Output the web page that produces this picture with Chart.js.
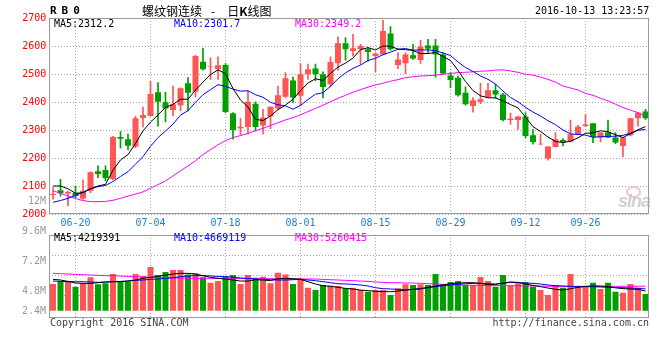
<!DOCTYPE html>
<html><head><meta charset="utf-8">
<script src="https://cdn.jsdelivr.net/npm/chart.js@4/dist/chart.umd.min.js"></script>
<style>
html,body{margin:0;padding:0;background:#fff;}
#wrap{position:relative;width:660px;height:360px;overflow:hidden;font-family:"DejaVu Sans Mono",monospace;font-size:10px;}
.t{position:absolute;white-space:nowrap;line-height:10px;}
canvas{position:absolute;left:0;}
</style></head><body>
<div id="wrap">
<canvas id="pc" width="660" height="230" style="top:0px"></canvas>
<canvas id="vc" width="660" height="100" style="top:230px"></canvas>
<div class="t" style="left:50px;top:5px;font-size:11px;line-height:12px;font-weight:bold;letter-spacing:5px;">RB0</div>
<div class="t" style="left:142px;top:4px;font-family:'Noto Sans CJK SC';font-size:12px;line-height:14px;">螺纹钢连续<span style="margin:0 12px 0 9px">-</span>日<b>K</b>线图</div>
<div class="t" style="left:535px;top:6px;">2016-10-13 13:23:57</div>
<div class="t" style="left:54px;top:19px;color:#000">MA5:2312.2</div>
<div class="t" style="left:174px;top:19px;color:#0000ff">MA10:2301.7</div>
<div class="t" style="left:295px;top:19px;color:#ff00ff">MA30:2349.2</div>
<div class="t" style="left:54px;top:233px;color:#000">MA5:4219391</div>
<div class="t" style="left:174px;top:233px;color:#0000ff">MA10:4669119</div>
<div class="t" style="left:295px;top:233px;color:#ff00ff">MA30:5260415</div>
<div id="vlabels"></div>
<div class="t" style="left:50px;top:318px;color:#444">Copyright 2016 SINA.COM</div>
<div class="t" style="right:11px;top:318px;color:#444">http://finance.sina.com.cn</div>
<div style="position:absolute;left:626px;top:186px;width:11px;height:8px;border:2px solid rgba(240,150,150,0.55);border-radius:50%;"></div>
<div class="t" style="left:618px;top:192px;font-family:'Liberation Sans';font-style:italic;font-weight:bold;font-size:18px;line-height:18px;color:rgba(170,170,170,0.55);letter-spacing:-1px;">sina</div>
</div>
<script>
const dates = ['06-15','06-16','06-17','06-20','06-21','06-22','06-23','06-24','06-27','06-28',
'06-29','06-30','07-01','07-04','07-05','07-06','07-07','07-08','07-11','07-12',
'07-13','07-14','07-15','07-18','07-19','07-20','07-21','07-22','07-25','07-26',
'07-27','07-28','07-29','08-01','08-02','08-03','08-04','08-05','08-08','08-09',
'08-10','08-11','08-12','08-15','08-16','08-17','08-18','08-19','08-22','08-23',
'08-24','08-25','08-26','08-29','08-30','08-31','09-01','09-02','09-05','09-06',
'09-07','09-08','09-09','09-12','09-13','09-14','09-19','09-20','09-21','09-22',
'09-23','09-26','09-27','09-28','09-29','09-30','10-10','10-11','10-12','10-13'];
const tickDates = ['06-20','07-04','07-18','08-01','08-15','08-29','09-12','09-26'];

const opens = [2068,2085,2073,2075,2055,2083,2153,2157,2125,2275,
2267,2241,2343,2350,2435,2399,2371,2388,2467,2437,
2544,2526,2517,2532,2360,2306,2311,2394,2316,2348,
2377,2419,2477,2422,2499,2520,2499,2463,2538,2610,
2582,2588,2588,2564,2570,2645,2532,2538,2567,2550,
2602,2602,2570,2495,2487,2433,2386,2401,2418,2442,
2427,2336,2336,2348,2281,2249,2198,2239,2264,2258,
2285,2314,2324,2273,2291,2273,2243,2281,2342,2366];
const highs = [2094,2124,2082,2100,2122,2151,2172,2172,2277,2294,
2285,2349,2382,2475,2469,2435,2457,2451,2487,2567,
2592,2558,2561,2537,2362,2342,2439,2401,2374,2383,
2457,2505,2489,2537,2535,2535,2508,2561,2633,2630,
2642,2606,2594,2576,2692,2669,2576,2576,2606,2620,
2624,2624,2576,2505,2493,2454,2416,2467,2467,2463,
2431,2360,2348,2362,2302,2285,2241,2291,2269,2335,
2317,2356,2324,2291,2335,2291,2273,2342,2362,2374];
const lows = [2053,2064,2029,2056,2052,2076,2130,2118,2123,2235,
2229,2237,2311,2349,2314,2329,2350,2368,2368,2418,
2514,2481,2481,2362,2267,2282,2285,2297,2285,2305,
2371,2416,2398,2386,2481,2475,2415,2454,2513,2549,
2564,2535,2546,2508,2568,2585,2519,2501,2552,2538,
2576,2489,2499,2451,2421,2389,2364,2394,2416,2413,
2332,2320,2302,2273,2249,2247,2192,2239,2243,2258,
2285,2312,2255,2257,2273,2251,2205,2279,2314,2338];
const closes = [2071,2074,2079,2064,2083,2149,2143,2128,2275,2269,
2244,2342,2354,2429,2401,2377,2392,2449,2433,2564,
2517,2528,2531,2364,2300,2312,2401,2311,2344,2383,
2424,2485,2416,2499,2517,2499,2454,2543,2610,2588,
2592,2600,2579,2573,2654,2588,2552,2570,2555,2598,
2590,2570,2502,2479,2424,2392,2406,2410,2442,2427,
2336,2341,2348,2279,2257,2251,2241,2267,2257,2285,
2312,2320,2275,2291,2273,2255,2273,2342,2362,2342];
const ma5 = [2100,2100,2090,2074,2076,2090,2100,2106,2156,2193,
2212,2252,2297,2328,2354,2381,2391,2410,2410,2443,
2471,2498,2515,2501,2448,2407,2382,2338,2334,2350,
2373,2389,2410,2441,2468,2483,2477,2502,2525,2539,
2557,2587,2594,2586,2600,2599,2589,2587,2584,2573,
2573,2577,2563,2548,2513,2473,2441,2422,2415,2415,
2404,2391,2379,2346,2312,2295,2275,2259,2255,2260,
2272,2288,2290,2297,2294,2283,2273,2287,2301,2312];
const ma10 = [2042,2048,2056,2066,2078,2090,2098,2102,2116,2134,
2151,2178,2205,2242,2273,2296,2321,2353,2369,2399,
2426,2444,2462,2456,2446,2439,2440,2426,2417,2399,
2390,2386,2374,2388,2409,2428,2433,2456,2483,2504,
2520,2532,2548,2556,2569,2578,2588,2591,2585,2586,
2586,2583,2575,2566,2543,2523,2509,2493,2481,2464,
2439,2416,2401,2381,2364,2350,2333,2319,2300,2286,
2284,2282,2274,2276,2277,2278,2281,2288,2299,2302];
const ma30 = [2083,2074,2064,2055,2048,2044,2044,2045,2049,2056,
2064,2071,2079,2092,2105,2118,2136,2154,2172,2190,
2212,2230,2247,2262,2273,2280,2288,2297,2306,2316,
2326,2336,2344,2354,2366,2377,2389,2401,2413,2424,
2435,2444,2453,2461,2467,2474,2480,2487,2490,2493,
2494,2496,2499,2502,2505,2506,2508,2510,2511,2514,
2515,2511,2506,2499,2496,2489,2481,2471,2457,2450,
2443,2431,2424,2413,2404,2392,2380,2371,2362,2349];

// volume in millions
const volumes = [5.72,6.36,6.22,5.15,5.86,7.15,5.65,5.86,7.87,6.22,
6.22,7.87,7.44,9.37,7.65,8.29,8.72,8.72,7.79,8.01,
7.15,6.01,6.36,7.44,7.65,5.72,7.65,7.08,7.29,5.86,
8.15,7.79,5.72,6.94,4.93,4.43,5.51,5.36,5.29,4.79,
4.93,4.43,4.08,4.43,4.43,3.36,4.79,5.65,5.51,5.65,
5.51,7.87,5.72,6.15,6.36,5.51,5.51,7.22,6.36,5.15,
7.65,5.29,5.86,6.15,5.15,4.43,3.36,5.51,4.93,7.87,
5.15,5.15,6.01,4.65,6.01,4.08,3.86,5.72,4.93,3.58];
const vma5 = [6.72,6.58,6.29,5.93,5.86,5.86,6.01,6.15,6.22,6.22,
6.36,6.58,6.94,7.15,7.36,7.65,7.87,8.01,8.01,7.87,
7.51,7.15,6.94,6.79,6.58,6.36,6.36,6.65,6.58,6.44,
6.86,6.94,6.86,6.72,6.22,5.72,5.36,5.22,5.01,4.79,
4.65,4.43,4.29,4.15,4.08,4.08,4.22,4.43,4.58,4.65,
5.01,5.29,5.51,5.79,5.93,6.01,6.01,5.86,5.58,5.65,
5.86,6.15,6.08,5.72,5.43,5.15,4.86,4.58,4.43,4.72,
5.01,5.22,5.29,5.29,5.15,4.93,4.72,4.65,4.58,4.22];
const vma10 = [6.36,6.29,6.22,6.22,6.22,6.15,6.08,6.15,6.22,6.29,
6.36,6.51,6.58,6.72,6.79,6.94,7.08,7.29,7.44,7.51,
7.51,7.44,7.36,7.29,7.15,7.01,6.94,6.79,6.72,6.65,
6.58,6.58,6.65,6.72,6.58,6.44,6.22,6.01,5.79,5.72,
5.65,5.51,5.29,4.93,4.72,4.65,4.58,4.43,4.58,4.79,
4.93,5.15,5.36,5.51,5.65,5.79,5.86,5.86,5.79,5.72,
5.93,6.08,6.01,5.93,5.86,5.72,5.51,5.36,5.29,5.22,
5.15,5.15,5.15,5.08,5.01,4.93,4.93,4.86,4.79,4.67];
const vma30 = [8.01,7.94,7.87,7.79,7.72,7.65,7.58,7.51,7.51,7.44,
7.36,7.29,7.22,7.15,7.08,7.08,7.01,7.01,6.94,6.94,
6.94,6.94,6.94,6.94,6.94,6.94,6.86,6.86,6.86,6.86,
6.86,6.79,6.79,6.79,6.79,6.79,6.72,6.65,6.58,6.51,
6.44,6.36,6.29,6.15,6.08,6.01,6.01,5.93,5.93,5.86,
5.79,5.72,5.65,5.58,5.51,5.51,5.43,5.43,5.43,5.36,
5.36,5.36,5.36,5.29,5.29,5.29,5.22,5.22,5.22,5.22,
5.22,5.22,5.22,5.22,5.22,5.22,5.24,5.24,5.25,5.26];
const volTickLabels = ['12M','9.6M','7.2M','4.8M','2.4M'];
const volTickY = [200.5,230.5,260.5,290.5,310.5];

const RED = '#ff5555', GREEN = '#00a000', GRID = '#a8a8a8', FRAME = '#9a9a9a';
const up = closes.map((c,i)=> c >= opens[i]);
const colorOf = ctx => up[ctx.dataIndex] ? RED : GREEN;
const bodies = opens.map((o,i)=>[Math.min(o,closes[i]), Math.max(o,closes[i])]);
const wicks = lows.map((l,i)=>[l, highs[i]]);
const isTick = i => tickDates.includes(dates[i]);
const MONO = {family:'DejaVu Sans Mono', size:10};

const frame = {id:'frame', afterDraw(c){
  const {ctx, chartArea:a} = c;
  ctx.save(); ctx.strokeStyle = FRAME; ctx.lineWidth = 1;
  ctx.strokeRect(Math.round(a.left)+0.5, Math.round(a.top)+0.5, Math.round(a.right-a.left)-1, Math.round(a.bottom-a.top)-1);
  ctx.restore();
}};
const lineDs = (data, color) => ({type:'line', data, borderColor:color, borderWidth:1, pointRadius:0, tension:0, order:0});
const xGrid = {offset:false, drawTicks:false, color: ctx => (ctx.tick && isTick(ctx.index)) ? GRID : 'rgba(0,0,0,0)'};
const common = {responsive:false, animation:false, events:[], plugins:{legend:{display:false}, tooltip:{enabled:false}}};

new Chart(document.getElementById('pc'), {
  type:'bar',
  data:{labels:dates, datasets:[
    lineDs(ma5,'#000000'), lineDs(ma10,'#0000ff'), lineDs(ma30,'#ff00ff'),
    {data:bodies, backgroundColor:colorOf, barPercentage:0.8, categoryPercentage:1, grouped:false, order:1},
    {data:wicks, backgroundColor:colorOf, barThickness:1, grouped:false, order:2}
  ]},
  options:Object.assign({}, common, {
    layout:{padding:{left:0, right:10.75, top:18, bottom:0}},
    scales:{
      x:{offset:true, grid:xGrid, border:{display:false, dash:[1,2]},
         ticks:{autoSkip:false, maxRotation:0, color:'#1a7fd4', font:MONO, padding:3,
                callback:(v,i)=> isTick(i) ? dates[i] : ''},
         afterFit:s=>{s.height=16;}},
      y:{min:2000, max:2700, grid:{drawTicks:false, color:GRID}, border:{display:false, dash:[1,2]},
         ticks:{stepSize:100, color:'#ff0000', font:MONO, padding:3, callback:v=>String(v)},
         afterFit:s=>{s.width=49.25;}}
    }
  }),
  plugins:[frame]
});

const VMAX = 16.24, VMIN = -1.57;
new Chart(document.getElementById('vc'), {
  type:'bar',
  data:{labels:dates, datasets:[
    lineDs(vma5,'#000000'), lineDs(vma10,'#0000ff'), lineDs(vma30,'#ff00ff'),
    {data:volumes, backgroundColor:colorOf, barPercentage:0.8, categoryPercentage:1, order:1}
  ]},
  options:Object.assign({}, common, {
    layout:{padding:{left:0, right:10.75, top:5, bottom:12}},
    scales:{
      x:{offset:true, grid:xGrid, border:{display:false, dash:[1,2]}, ticks:{display:false},
         afterFit:s=>{s.height=0;}},
      y:{min:VMIN, max:VMAX, grid:{drawTicks:false, color:GRID}, border:{display:false, dash:[1,2]},
         ticks:{display:false},
         afterBuildTicks:s=>{const st=(VMAX-VMIN)*20/83; s.ticks=[0,1,2,3].map(k=>({value:VMAX-k*st}));},
         afterFit:s=>{s.width=49.25;}}
    }
  }),
  plugins:[frame]
});

const vl = document.getElementById('vlabels');
volTickLabels.forEach((t,k)=>{
  const d = document.createElement('div');
  d.className='t'; d.textContent=t;
  d.style.right='614px'; d.style.top=(volTickY[k]-5)+'px'; d.style.color='#999';
  vl.appendChild(d);
});
</script>
</body></html>
